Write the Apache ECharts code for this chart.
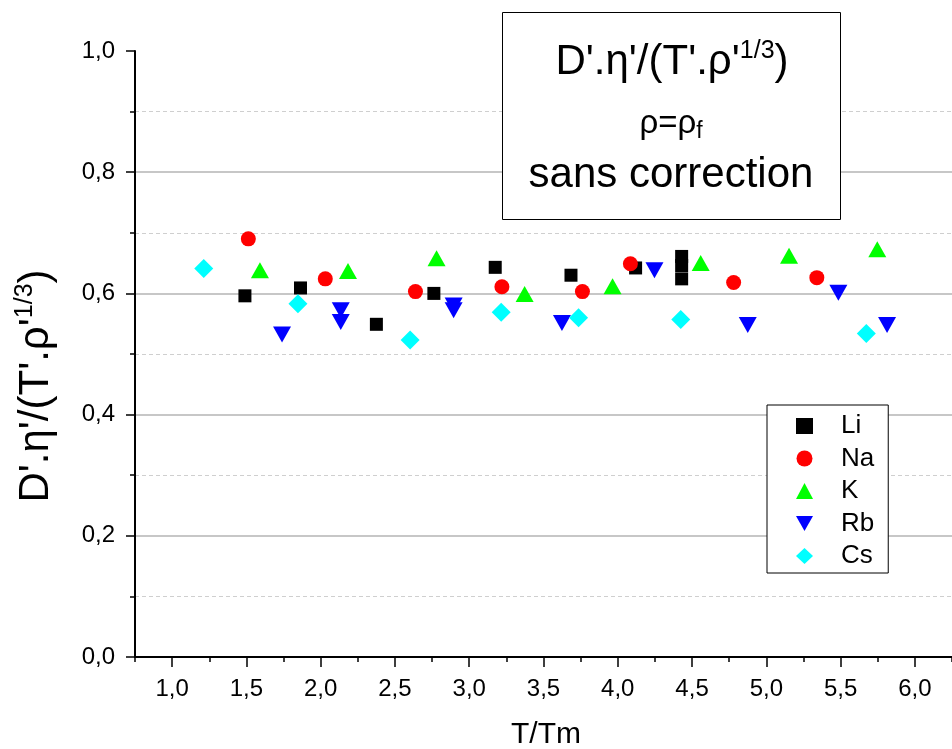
<!DOCTYPE html>
<html>
<head>
<meta charset="utf-8">
<script src="https://cdn.jsdelivr.net/npm/echarts@6/dist/echarts.min.js"></script>
<style>
html,body{margin:0;padding:0;background:#fff;}
#main{width:952px;height:749px;}
</style>
</head>
<body>
<div id="main"></div>
<script>
// ---- data ----
var liData = [[1.49,0.596],[1.864,0.609],[2.375,0.549],[2.762,0.600],[3.175,0.643],[3.685,0.630],[4.12,0.642],[4.43,0.661],[4.43,0.646],[4.43,0.624]];
var naData = [[1.513,0.690],[2.031,0.624],[2.638,0.603],[3.22,0.611],[3.762,0.603],[4.085,0.649],[4.78,0.618],[5.34,0.626]];
var kData  = [[1.591,0.638],[2.184,0.637],[2.78,0.658],[3.373,0.599],[3.965,0.612],[4.558,0.650],[5.153,0.662],[5.747,0.673]];
var rbData = [[1.74,0.532],[2.135,0.572],[2.135,0.553],[2.895,0.580],[2.895,0.572],[3.624,0.551],[4.247,0.638],[4.875,0.548],[5.485,0.601],[5.813,0.548]];
var csData = [[1.213,0.641],[1.847,0.583],[2.602,0.523],[3.215,0.569],[3.736,0.560],[4.424,0.557],[5.673,0.534]];
var seriesNames = ['Li','Na','K','Rb','Cs'];
var xMajorTicks = [1.0,1.5,2.0,2.5,3.0,3.5,4.0,4.5,5.0,5.5,6.0];
var xMin = 0.75, xMax = 6.25;
var yMin = 0, yMax = 1.0;

var FONT = '"Liberation Sans", Arial, sans-serif';
function comma(v){ return (Math.round(v*10)/10).toFixed(1).replace('.', ','); }

var legendIcons = { Rb: 'path://M0,0L18,0L9,16Z' };

var chart = echarts.init(document.getElementById('main'), null, {renderer:'canvas'});
var option = {
  backgroundColor: '#fff',
  animation: false,
  grid: { left: 135, top: 51, right: -8, bottom: 92, containLabel: false },
  xAxis: [{
    type: 'value', min: xMin, max: xMax, interval: 0.25,
    axisLine: { show: true, onZero: false, lineStyle: { color: '#000', width: 2 } },
    axisTick: { show: true, inside: false, length: 5, lineStyle: { color: '#000', width: 1.5 } },
    axisLabel: { show: false },
    splitLine: { show: false }
  }, {
    type: 'value', min: xMin, max: xMax, position: 'bottom',
    axisLine: { show: false },
    axisTick: { show: true, length: 10, customValues: xMajorTicks, lineStyle: { color: '#000', width: 1.5 } },
    axisLabel: { show: true, customValues: xMajorTicks, margin: 20, fontSize: 24, color: '#000', fontFamily: FONT, formatter: comma },
    splitLine: { show: false }
  }],
  yAxis: [{
    type: 'value', min: yMin, max: yMax, interval: 0.2,
    axisLine: { show: true, onZero: false, lineStyle: { color: '#000', width: 2 } },
    axisTick: { show: true, length: 9, lineStyle: { color: '#000', width: 1.5 } },
    minorTick: { show: true, splitNumber: 2, length: 5, lineStyle: { color: '#000', width: 1.5 } },
    axisLabel: { margin: 20, fontSize: 24, color: '#000', fontFamily: FONT, formatter: comma },
    splitLine: { show: true, showMaxLine: false, showMinLine: false, lineStyle: { color: '#b4b4b4', width: 1.5, type: 'solid' } },
    minorSplitLine: { show: true, lineStyle: { color: '#cfcfcf', width: 1, type: [4,3] } }
  }],
  legend: {
    orient: 'vertical', left: 767, top: 405,
    padding: [8, 14, 4, 29],
    backgroundColor: '#fff', borderColor: '#000', borderWidth: 1,
    itemWidth: 17, itemHeight: 16, itemGap: 6.5,
    textStyle: { fontSize: 26, color: '#000', fontFamily: FONT, padding: [0,0,0,23] },
    data: seriesNames.map(function(n){ return legendIcons[n] ? { name: n, icon: legendIcons[n] } : { name: n }; })
  },
  series: [
    { name: 'Li', type: 'scatter', data: liData, symbol: 'rect', symbolSize: 13, itemStyle: { color: '#000000', opacity: 1 } },
    { name: 'Na', type: 'scatter', data: naData, symbol: 'circle', symbolSize: 15, itemStyle: { color: '#ff0000', opacity: 1 } },
    { name: 'K', type: 'scatter', data: kData, symbol: 'triangle', symbolSize: [18,16], itemStyle: { color: '#00ff00', opacity: 1 } },
    { name: 'Rb', type: 'scatter', data: rbData, symbol: 'triangle', symbolRotate: 180, symbolSize: [18,16], itemStyle: { color: '#0000ff', opacity: 1 } },
    { name: 'Cs', type: 'scatter', data: csData, symbol: 'diamond', symbolSize: 19, itemStyle: { color: '#00ffff', opacity: 1 } }
  ],
  graphic: [
    { type: 'rect', shape: { x: 502.5, y: 12.5, width: 338, height: 207 }, style: { fill: '#fff', stroke: '#000', lineWidth: 1 }, z: 100 },
    { type: 'text', x: 672, y: 62, z: 101, style: {
        text: "{a|D'.η'/(T'.ρ'}{s|1/3}{a|)}", textAlign: 'center', textVerticalAlign: 'middle',
        rich: { a: { fontSize: 42, fontFamily: FONT, fill: '#000', lineHeight: 46 },
                s: { fontSize: 25, fontFamily: FONT, fill: '#000', lineHeight: 46, verticalAlign: 'top' } } } },
    { type: 'text', x: 671, y: 124, z: 101, style: {
        text: "{a|ρ=ρ}{s|f}", textAlign: 'center', textVerticalAlign: 'middle',
        rich: { a: { fontSize: 33, fontFamily: FONT, fill: '#000', lineHeight: 38 },
                s: { fontSize: 23, fontFamily: FONT, fill: '#000', lineHeight: 38, verticalAlign: 'bottom' } } } },
    { type: 'text', x: 671, y: 175, z: 101, style: {
        text: 'sans correction', textAlign: 'center', textVerticalAlign: 'middle',
        fontSize: 42, fontFamily: FONT, fill: '#000' } },
    { type: 'text', x: 36, y: 386, rotation: Math.PI/2, z: 101, style: {
        text: "{a|D'.η'/(T'.ρ'}{s|1/3}{a|)}", textAlign: 'center', textVerticalAlign: 'middle',
        rich: { a: { fontSize: 42, fontFamily: FONT, fill: '#000', lineHeight: 46 },
                s: { fontSize: 25, fontFamily: FONT, fill: '#000', lineHeight: 46, verticalAlign: 'top' } } } },
    { type: 'text', x: 546, y: 735, z: 101, style: {
        text: 'T/Tm', textAlign: 'center', textVerticalAlign: 'middle',
        fontSize: 30, fontFamily: FONT, fill: '#000' } }
  ]
};
chart.setOption(option);
</script>
</body>
</html>
